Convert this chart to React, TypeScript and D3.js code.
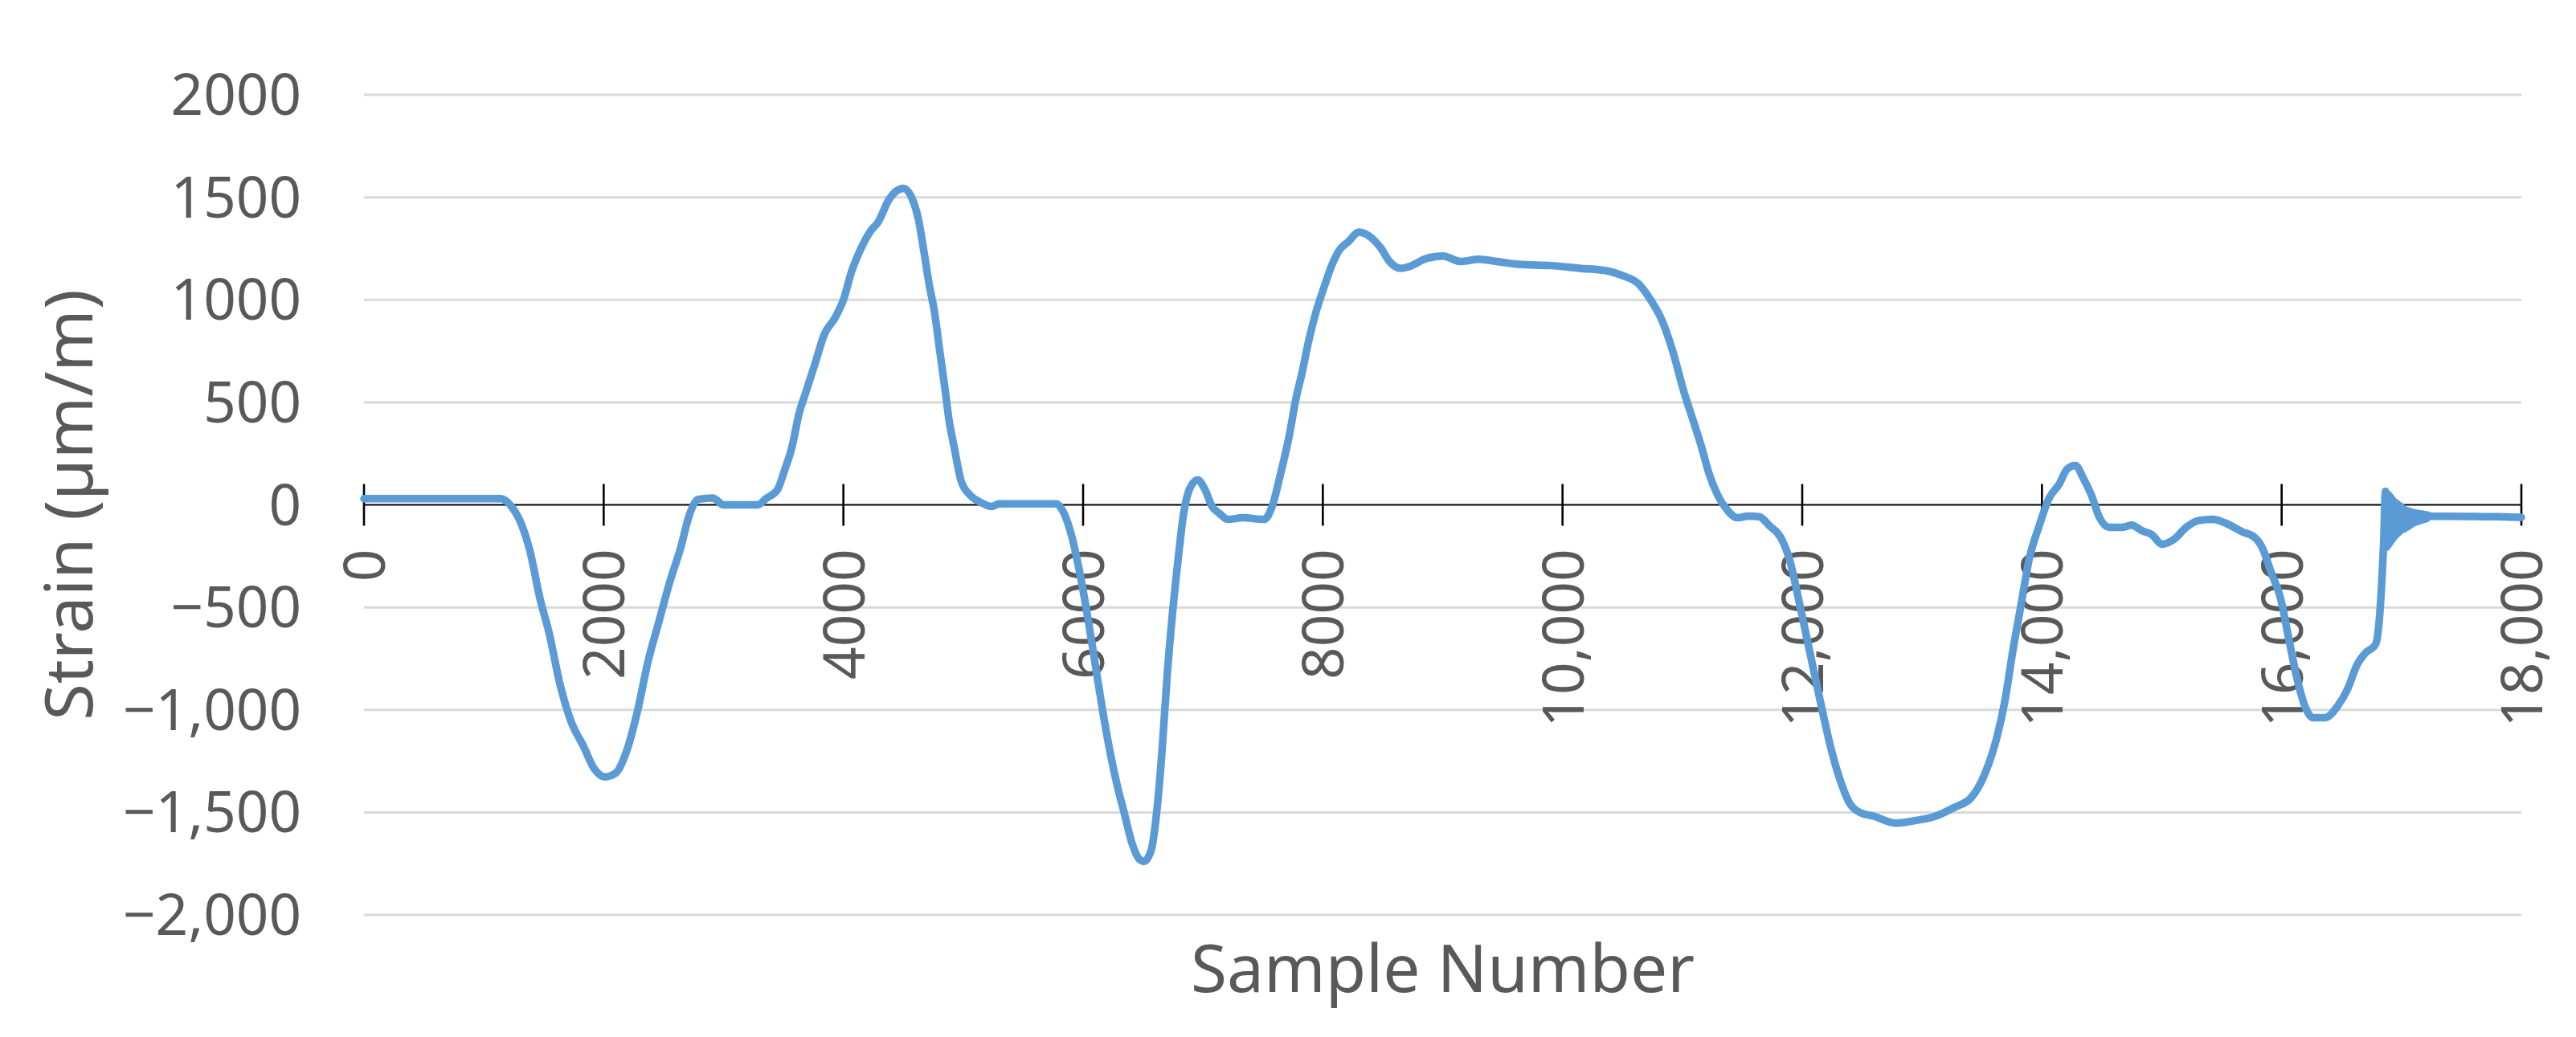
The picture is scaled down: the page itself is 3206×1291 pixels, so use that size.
import React from 'react';
import * as d3 from 'd3';

// sample number (x) and strain in µm/m (y)
const samples = [
  0, 500, 1000, 1140, 1230, 1320, 1380, 1470, 1545, 1635, 1725, 1830, 1920, 2010, 2100, 2190, 2280, 2370,
  2460, 2550, 2640, 2715, 2790, 2910, 3000, 3150, 3285, 3360, 3450, 3510, 3570, 3630, 3690, 3765, 3840, 3930,
  4005, 4065, 4140, 4230, 4290, 4380, 4440, 4500, 4566, 4626, 4670, 4715, 4760, 4805, 4850, 4880, 4925, 4983,
  5058, 5148, 5238, 5298, 5537, 5776, 5836, 5895, 5970, 6045, 6105, 6165, 6224, 6284, 6344, 6404, 6464, 6508,
  6568, 6613, 6658, 6703, 6748, 6792, 6837, 6897, 6957, 7017, 7076, 7136, 7211, 7330, 7510, 7584, 7644, 7719,
  7779, 7824, 7883, 7943, 8003, 8078, 8137, 8212, 8302, 8406, 8481, 8556, 8646, 8735, 8855, 9001, 9151, 9301,
  9451, 9631, 9901, 10141, 10381, 10501, 10636, 10741, 10831, 10921, 11011, 11086, 11161, 11220, 11295, 11370,
  11460, 11550, 11640, 11730, 11820, 11895, 11970, 12060, 12150, 12240, 12315, 12390, 12480, 12600, 12780,
  12960, 13110, 13260, 13410, 13523, 13624, 13691, 13758, 13825, 13892, 13976, 14060, 14145, 14212, 14279,
  14346, 14413, 14481, 14565, 14665, 14749, 14834, 14918, 15002, 15102, 15203, 15304, 15422, 15539, 15674,
  15775, 15842, 15909, 15993, 16060, 16128, 16195, 16262, 16363, 16464, 16548, 16632, 16699, 16783, 16817,
  16840, 16851,
];
const strain = [
  30, 30, 30, 30, -8, -104, -214, -461, -626, -874, -1052, -1176, -1286, -1327, -1308, -1203, -1011, -764,
  -571, -379, -214, -49, 27, 33, 0, 0, 0, 33, 74, 170, 280, 445, 555, 692, 830, 912,
  1008, 1132, 1242, 1338, 1379, 1489, 1530, 1544, 1503, 1393, 1242, 1077, 940, 747, 555, 418, 280, 115,
  47, 11, -8, 5, 5, 5, -36, -132, -324, -571, -791, -1011, -1203, -1368, -1505, -1643, -1725, -1739,
  -1684, -1505, -1203, -819, -516, -269, -49, 88, 121, 74, -8, -41, -71, -63, -71, 5, 143, 335,
  527, 637, 802, 940, 1049, 1173, 1242, 1283, 1330, 1302, 1255, 1187, 1154, 1165, 1200, 1214, 1187, 1198,
  1187, 1173, 1167, 1154, 1140, 1118, 1077, 994, 898, 747, 555, 418, 280, 157, 47, -22,
  -63, -55, -58, -104, -159, -269, -461, -709, -956, -1189, -1340, -1450, -1500, -1519, -1552,
  -1538, -1519, -1478, -1428, -1313, -1134, -956, -709, -489, -269, -104, 33, 102, 176, 192,
  129, 47, -63, -110, -110, -99, -126, -146, -192, -168, -110, -77, -71, -91, -132,
  -159, -214, -324, -461, -654, -846, -984, -1038, -1038, -984, -901, -777, -722, -681, -544,
  -324, -187,
];

// ringing after the release near sample 16,860, then the settled tail
const ringSamples = [
  16866, 16874, 16882, 16890, 16898, 16906, 16914, 16922, 16930, 16938, 16946, 16954, 16962, 16970, 16978,
  16986, 16994, 17002, 17010, 17018, 17026, 17034, 17042, 17050, 17058, 17066, 17074, 17082, 17090, 17098,
  17106, 17114, 17122, 17130, 17138, 17146, 17154, 17162, 17170, 17178, 17186, 17194, 17202, 17210, 17220,
  17240, 17400, 17600, 17800, 18000,
];
const ringStrain = [
  66, -207, 55, -196, 44, -182, 33, -170, 22, -157, 13, -147, 6, -138, -2,
  -130, -7, -122, -18, -118, -24, -112, -27, -107, -30, -101, -33, -95, -36, -89,
  -38, -84, -41, -81, -43, -78, -44, -75, -45, -72, -47, -70, -48, -67, -50,
  -56, -56, -57, -58, -61,
];

const xTicks = [0, 2000, 4000, 6000, 8000, 10000, 12000, 14000, 16000, 18000];
const xTickLabels = ['0', '2000', '4000', '6000', '8000', '10,000', '12,000', '14,000', '16,000', '18,000'];
const yTicks = [2000, 1500, 1000, 500, 0, -500, -1000, -1500, -2000];
const yTickLabels = ['2000', '1500', '1000', '500', '0', '\u2212500', '\u22121,000', '\u22121,500', '\u22122,000'];

const WIDTH = 3206;
const HEIGHT = 1291;
const margin = { top: 118, right: 68, bottom: 152, left: 453 };
const FONT = '"Noto Sans", "Open Sans", sans-serif';
const TEXT = '#595959';

export default function App() {
  const x = d3.scaleLinear().domain([0, 18000]).range([margin.left, WIDTH - margin.right]);
  const y = d3.scaleLinear().domain([-2000, 2000]).range([HEIGHT - margin.bottom, margin.top]);

  const points: [number, number][] = samples
    .map((s, i) => [s, strain[i]] as [number, number])
    .concat(ringSamples.map((s, i) => [s, ringStrain[i]] as [number, number]));

  const line = d3
    .line<[number, number]>()
    .x(d => x(d[0]))
    .y(d => y(d[1]))
    .curve(d3.curveMonotoneX);

  const y0 = y(0);

  return (
    <svg
      width={WIDTH}
      height={HEIGHT}
      style={{ position: 'absolute', left: 0, top: 0, display: 'block', background: '#fff' }}
    >
      {/* horizontal gridlines */}
      {yTicks
        .filter(t => t !== 0)
        .map(t => (
          <line key={t} x1={x(0)} x2={x(18000)} y1={y(t)} y2={y(t)} stroke="#D9D9D9" strokeWidth={3} />
        ))}

      {/* y tick labels */}
      {yTicks.map((t, i) => (
        <text key={t} x={375} y={y(t) + 25} fontFamily={FONT} fontSize={71} fill={TEXT} textAnchor="end">
          {yTickLabels[i]}
        </text>
      ))}

      {/* x axis through zero with crossing ticks */}
      <line x1={x(0)} x2={x(18000)} y1={y0} y2={y0} stroke="#000" strokeWidth={2.2} />
      {xTicks.map(t => (
        <line key={t} x1={x(t)} x2={x(t)} y1={y0 - 26} y2={y0 + 26} stroke="#000" strokeWidth={2.6} />
      ))}

      {/* rotated x tick labels */}
      {xTicks.map((t, i) => (
        <text
          key={t}
          transform={`translate(${x(t) + 26},${y0 + 55}) rotate(-90)`}
          fontFamily={FONT}
          fontSize={71}
          fill={TEXT}
          textAnchor="end"
        >
          {xTickLabels[i]}
        </text>
      ))}

      {/* series */}
      <path
        d={line(points) || ''}
        fill="none"
        stroke="#5B9BD5"
        strokeWidth={9.5}
        strokeLinejoin="round"
        strokeLinecap="round"
      />

      {/* axis titles */}
      <text
        transform={`translate(115,${(y(2000) + y(-2000)) / 2}) rotate(-90)`}
        fontFamily={FONT}
        fontSize={83}
        fill={TEXT}
        textAnchor="middle"
      >
        Strain (µm/m)
      </text>
      <text
        x={(x(0) + x(18000)) / 2}
        y={1235}
        fontFamily={FONT}
        fontSize={82}
        fill={TEXT}
        textAnchor="middle"
      >
        Sample Number
      </text>
    </svg>
  );
}
